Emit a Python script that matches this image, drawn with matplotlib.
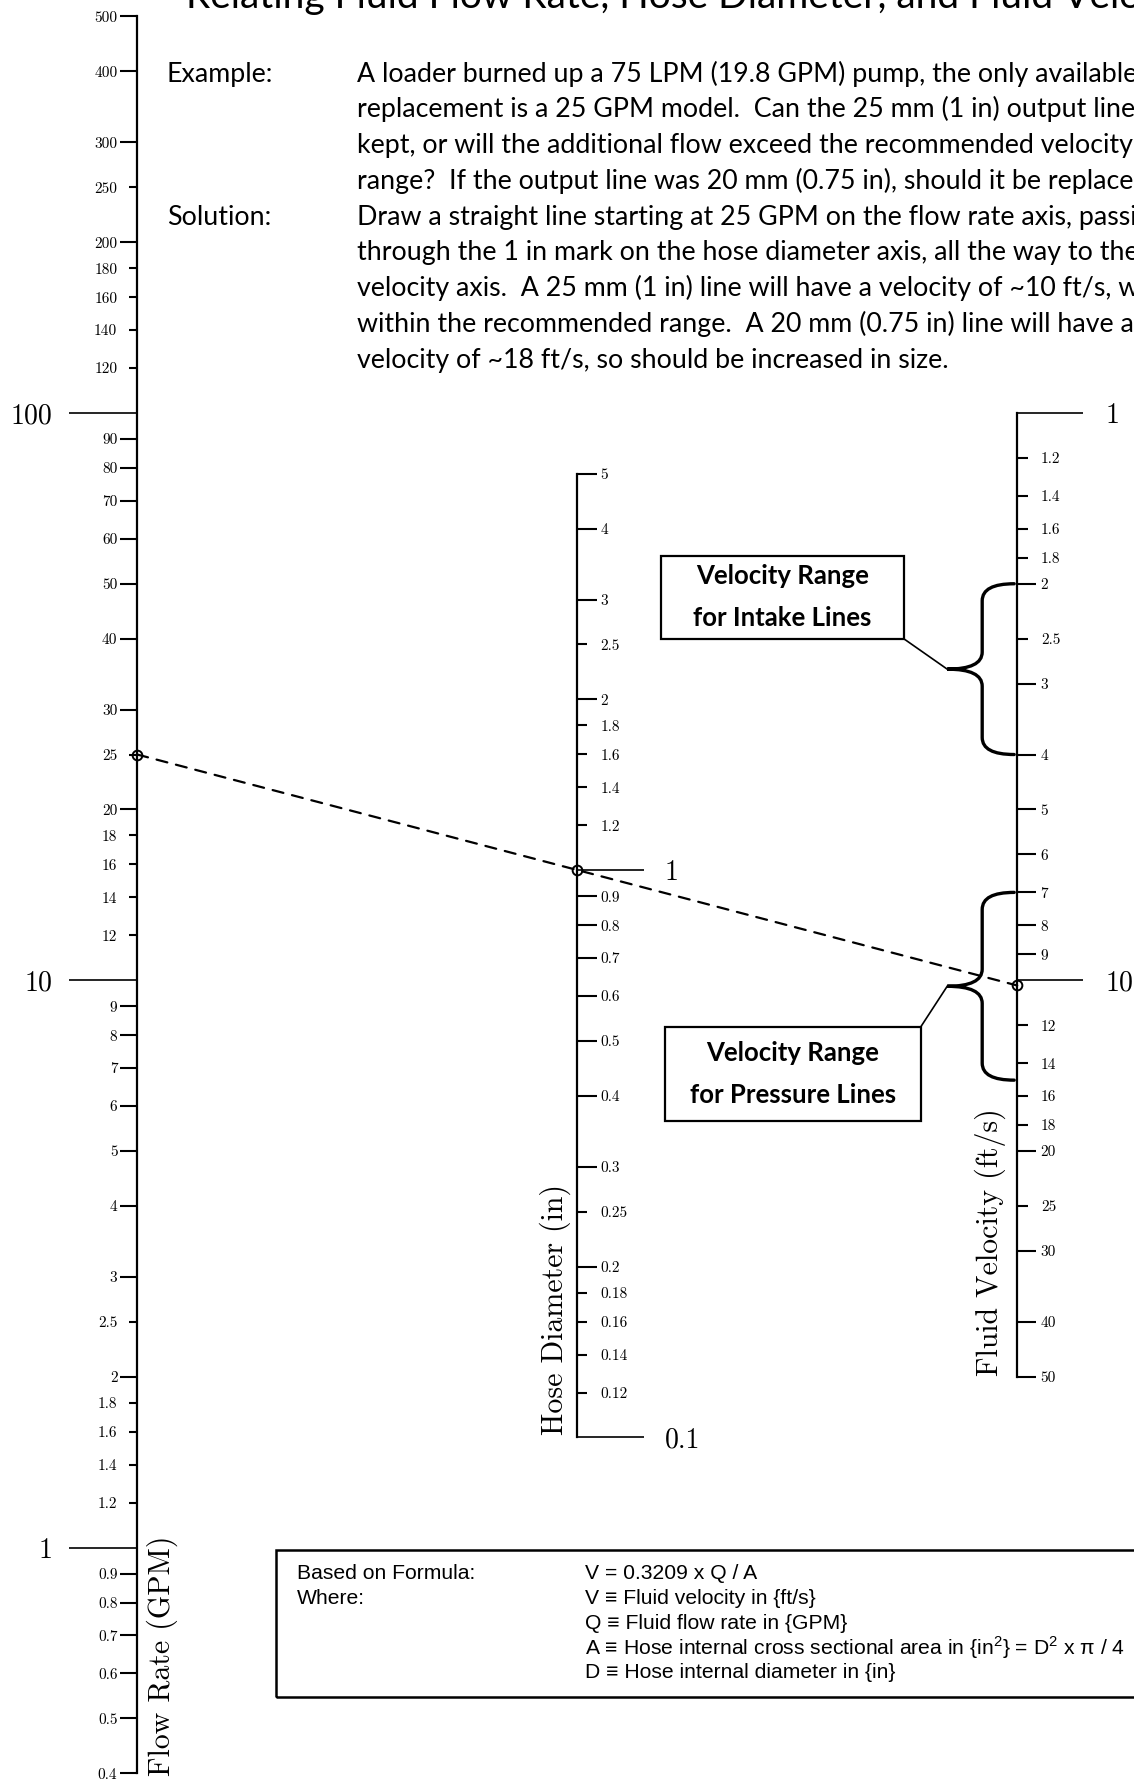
import numpy as np
import matplotlib.pyplot as plt
from matplotlib.patches import Rectangle, PathPatch, ConnectionPatch
from matplotlib.path import Path
from matplotlib.ticker import NullLocator
from matplotlib.transforms import IdentityTransform
from matplotlib.lines import Line2D

plt.rcParams['mathtext.fontset'] = 'custom'
plt.rcParams['mathtext.rm'] = 'Liberation Sans'

# ---- data ----
flow_major = [1, 10, 100]
flow_long = [0.4, 0.5, 0.6, 0.7, 0.8, 0.9, 2, 3, 4, 5, 6, 7, 8, 9,
             20, 30, 40, 50, 60, 70, 80, 90, 200, 300, 400, 500]
flow_short = [1.2, 1.4, 1.6, 1.8, 2.5, 12, 14, 16, 18, 25, 120, 140, 160, 180, 250]
flow_span = (0.4, 500)

hose_major = [0.1, 1]
hose_long = [0.2, 0.3, 0.4, 0.5, 0.6, 0.7, 0.8, 0.9, 2, 3, 4, 5]
hose_short = [0.12, 0.14, 0.16, 0.18, 0.25, 1.2, 1.4, 1.6, 1.8, 2.5]
hose_span = (0.1, 5)

vel_major = [1, 10]
vel_long = [2, 3, 4, 5, 6, 7, 8, 9, 20, 30, 40, 50]
vel_short = [1.2, 1.4, 1.6, 1.8, 2.5, 12, 14, 16, 18, 25]
vel_span = (1, 50)

K = 0.3209            # V = K * Q / A
example_flow = 25     # GPM
example_dia = 1.0     # in
intake_range = (2, 4)
pressure_range = (7, 15)

title = "Relating Fluid Flow Rate, Hose Diameter, and Fluid Velocity"
example_lines = [
    "A loader burned up a 75 LPM (19.8 GPM) pump, the only available",
    "replacement is a 25 GPM model.  Can the 25 mm (1 in) output line be",
    "kept, or will the additional flow exceed the recommended velocity",
    "range?  If the output line was 20 mm (0.75 in), should it be replaced?",
]
solution_lines = [
    "Draw a straight line starting at 25 GPM on the flow rate axis, passing",
    "through the 1 in mark on the hose diameter axis, all the way to the",
    "velocity axis.  A 25 mm (1 in) line will have a velocity of ~10 ft/s, which is",
    "within the recommended range.  A 20 mm (0.75 in) line will have a",
    "velocity of ~18 ft/s, so should be increased in size.",
]
formula_left = ["Based on Formula:", "Where:"]
formula_right = [
    "V = 0.3209 x Q / A",
    "V \u2261 Fluid velocity in {ft/s}",
    "Q \u2261 Fluid flow rate in {GPM}",
    "A \u2261 Hose internal cross sectional area in {in$^2$} = D$^2$ x \u03c0 / 4",
    "D \u2261 Hose internal diameter in {in}",
]

# ---- layout (reference measured on a 1000 x 1568 grid) ----
W, H = 1134, 1779
GX, GY = 1000.0, 1568.0
DEC = 500 / GY        # one decade as a fraction of figure height


def fp(x, y):
    return x / GX, 1 - y / GY


def log_lims(anchor, invert=False):
    if invert:
        return 10 ** (anchor / DEC), 10 ** ((anchor - 1) / DEC)
    return 10 ** (-anchor / DEC), 10 ** ((1 - anchor) / DEC)


fig = plt.figure(figsize=(W / 100, H / 100), dpi=100)
fig.patch.set_facecolor('white')

SERIF = 'cmr10'
SMALL = 11


def fmt(v):
    return f'{v:g}'


def make_scale(x, side, lims, span, major, long_, short, lens, pads):
    rect = [x, 0, 0.3, 1] if side == 'left' else [x - 0.3, 0, 0.3, 1]
    axs = []
    for k in range(2):
        ax = fig.add_axes(rect, facecolor='none')
        ax.set_yscale('log')
        ax.set_ylim(*lims)
        ax.set_xlim(0, 1)
        ax.set_xticks([])
        for s in ax.spines.values():
            s.set_visible(False)
        ax.yaxis.set_ticks_position(side)
        axs.append(ax)
    ax, ax2 = axs
    ax.spines[side].set_visible(True)
    ax.spines[side].set_bounds(*span)
    ax.spines[side].set_linewidth(1.6)
    ax.set_yticks(major, labels=[fmt(v) for v in major])
    ax.set_yticks(long_, labels=[fmt(v) for v in long_], minor=True)
    ax.tick_params(axis='y', which='major', length=lens[0], width=1.2, pad=pads[0],
                   labelsize=20, labelfontfamily=SERIF)
    ax.tick_params(axis='y', which='minor', length=lens[1], width=1.5, pad=pads[1],
                   labelsize=SMALL, labelfontfamily=SERIF)
    ax2.set_yticks(short, labels=[fmt(v) for v in short])
    ax2.yaxis.set_minor_locator(NullLocator())
    ax2.tick_params(axis='y', which='major', length=lens[2], width=1.5, pad=pads[2],
                    labelsize=SMALL, labelfontfamily=SERIF)
    return ax


ax_flow = make_scale(0.121, 'left', log_lims((GY - 1364) / GY), flow_span,
                     flow_major, flow_long, flow_short, (49, 12, 6), (12, 2.2, 8.3))
ax_hose = make_scale(0.509, 'right', log_lims((GY - 767) / GY), hose_span,
                     hose_major, hose_long, hose_short, (48, 14.4, 7.2), (15, 2.2, 9.4))
ax_vel = make_scale(0.897, 'right', log_lims((GY - 364) / GY, invert=True), vel_span,
                    vel_major, vel_long, vel_short, (47.5, 13.7, 8), (16, 3.2, 9.2))

# axis titles
fig.text(*fp(143, 1565), "Flow Rate (GPM)", family=SERIF, size=21.5, rotation=90,
         ha='center', va='bottom')
fig.text(*fp(490, 1265), "Hose Diameter (in)", family=SERIF, size=21.5, rotation=90,
         ha='center', va='bottom')
fig.text(*fp(873, 1213), "Fluid Velocity (ft/s)", family=SERIF, size=21.5, rotation=90,
         ha='center', va='bottom')

# example line through the three scales
example_vel = K * example_flow / (np.pi / 4 * example_dia ** 2)
con = ConnectionPatch(xyA=(0, example_flow), coordsA=ax_flow.transData,
                      xyB=(1, example_vel), coordsB=ax_vel.transData,
                      linestyle=(0, (5, 4)), lw=1.6, color='black', zorder=4)
fig.add_artist(con)
mk = dict(marker='o', ms=7, mfc='none', mec='black', mew=1.4, clip_on=False, zorder=6)
ax_flow.plot([0], [example_flow], **mk)
ax_hose.plot([1], [example_dia], **mk)
ax_vel.plot([1], [example_vel], **mk)


# braces for recommended velocity ranges
def brace(ax, rng):
    pts = ax.transData.transform([[1, rng[0]], [1, rng[1]]])
    xa = pts[0, 0]
    top, bot = max(pts[:, 1]), min(pts[:, 1])
    mid = (top + bot) / 2
    x0, x1, x2, r = xa - 3, xa - 35, xa - 70, 17
    verts = [(x0, top), (x1, top), (x1, top - r), (x1, mid + r), (x1, mid), (x2, mid),
             (x1, mid), (x1, mid - r), (x1, bot + r), (x1, bot), (x0, bot)]
    codes = [Path.MOVETO, Path.CURVE3, Path.CURVE3, Path.LINETO, Path.CURVE3, Path.CURVE3,
             Path.CURVE3, Path.CURVE3, Path.LINETO, Path.CURVE3, Path.CURVE3]
    fig.add_artist(PathPatch(Path(verts, codes), transform=IdentityTransform(),
                             fill=False, lw=2.4, ec='black', capstyle='round', zorder=5))
    return x2, mid


def label_box(x0, y0, x1, y1, lines, corner, tip):
    fx0, fy1 = fp(x0, y0)
    fx1, fy0 = fp(x1, y1)
    fig.add_artist(Rectangle((fx0, fy0), fx1 - fx0, fy1 - fy0, transform=fig.transFigure,
                             fill=False, lw=1.6, ec='black'))
    cy = (fy0 + fy1) / 2
    fig.text((fx0 + fx1) / 2, cy + 0.0118, lines[0], family='Lato', weight='bold',
             size=18.5, ha='center', va='center')
    fig.text((fx0 + fx1) / 2, cy - 0.0118, lines[1], family='Lato', weight='bold',
             size=18.5, ha='center', va='center')
    cx = (fx0, fx1)[corner[0]] * W
    cyy = (fy0, fy1)[corner[1]] * H
    fig.add_artist(Line2D([cx, tip[0]], [cyy, tip[1]], transform=IdentityTransform(),
                          lw=1.2, color='black'))


tip_in = brace(ax_vel, intake_range)
tip_pr = brace(ax_vel, pressure_range)
label_box(583, 490, 797, 563, ["Velocity Range", "for Intake Lines"], (1, 0), tip_in)
label_box(586, 905, 812, 988, ["Velocity Range", "for Pressure Lines"], (1, 1), tip_pr)

# title and explanatory text
fig.text(*fp(164, 7), title, family='Lato', size=28, va='baseline')
BODY = dict(family='Lato', size=19.3, va='baseline')
fig.text(*fp(147, 72), "Example:", **BODY)
fig.text(*fp(147, 72 + 4 * 31.5), "Solution:", **BODY)
for i, line in enumerate(example_lines + solution_lines):
    fig.text(*fp(315, 72 + i * 31.5), line, **BODY)

# formula box
bx0, by1 = fp(243, 1366)
bx1, by0 = fp(1010, 1496)
fig.add_artist(Rectangle((bx0, by0), bx1 - bx0, by1 - by0, transform=fig.transFigure,
                         fill=False, lw=1.8, ec='black', clip_on=False))
FORM = dict(family=['Liberation Sans', 'DejaVu Sans'], size=15.2, va='center')
for i, line in enumerate(formula_left):
    fig.text(*fp(262, 1387 + i * 21.8), line, **FORM)
for i, line in enumerate(formula_right):
    fig.text(*fp(516, 1387 + i * 21.8), line, **FORM)

fig.savefig('out.png', dpi=100, facecolor='white')
